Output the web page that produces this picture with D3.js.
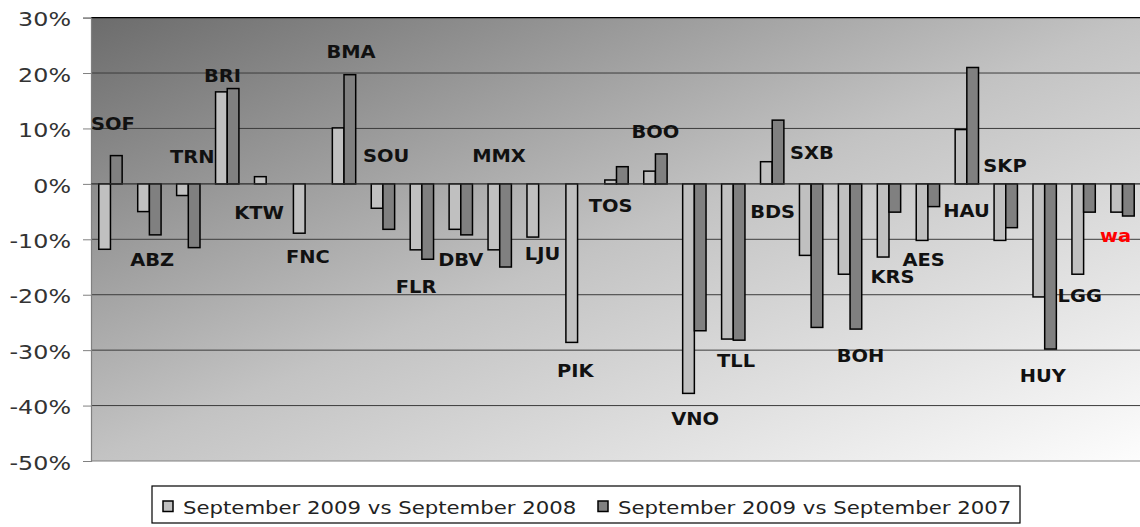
<!DOCTYPE html>
<html>
<head>
<meta charset="utf-8">
<script src="https://cdn.jsdelivr.net/npm/d3@7"></script>
<style>
  body { margin: 0; background: #fff; }
  svg { display: block; font-family: "DejaVu Sans", Verdana, sans-serif; }
</style>
</head>
<body>
<svg id="chart" width="1140" height="527"></svg>
<script>
// airports (data label text)
const airports = ["SOF", "ABZ", "TRN", "BRI", "KTW", "FNC", "BMA", "SOU", "FLR", "DBV",
  "MMX", "LJU", "PIK", "TOS", "BOO", "VNO", "TLL", "BDS", "SXB", "BOH",
  "KRS", "AES", "HAU", "SKP", "HUY", "LGG", "wa"];

// % change, September 2009 vs September 2008
const vs2008 = [-11.8, -5.0, -2.1, 16.6, 1.3, -8.9, 10.1, -4.4, -11.9, -8.2,
  -11.9, -9.6, -28.6, 0.7, 2.3, -37.8, -28.0, 4.0, -12.9, -16.3,
  -13.2, -10.2, 9.8, -10.2, -20.4, -16.3, -5.1];

// % change, September 2009 vs September 2007 (null = no bar)
const vs2007 = [5.1, -9.2, -11.5, 17.2, null, null, 19.7, -8.2, -13.6, -9.2,
  -15.0, null, null, 3.1, 5.4, -26.5, -28.2, 11.5, -25.9, -26.2,
  -5.1, -4.1, 21.0, -7.9, -29.8, -5.1, -5.8];

// where the hand-placed labels sit: shift in bands, height in %
const labelShift = [0.06, 0.07, 0.1, -0.12, -0.18, 0.07, 0.18, 0.08, -0.15, 0,
  -0.02, 0.1, -0.06, -0.15, 0, 0.02, 0.07, 0.01, 0.02, 0.27,
  0.09, -0.11, -0.01, -0.02, -0.05, -0.1, -0.18];
const labelLevel = [9.7, -14.9, 3.8, 18.3, -6.3, -14.2, 22.7, 4.0, -19.6, -14.9,
  3.9, -13.7, -34.8, -5.1, 8.2, -43.5, -33.0, -6.2, 4.4, -32.1,
  -17.9, -14.9, -5.9, 2.1, -35.7, -21.4, -10.4];

const yTicks = [30, 20, 10, 0, -10, -20, -30, -40, -50];
const seriesNames = ["September 2009 vs September 2008", "September 2009 vs September 2007"];
const seriesColors = ["#c0c0c0", "#808080"];

const svg = d3.select("#chart");
const plot = { left: 91, right: 1142, top: 17.6, bottom: 461 };

const x = d3.scaleBand()
  .domain(airports)
  .range([plot.left, plot.right])
  .paddingInner(0.4)
  .paddingOuter(0.2);
const xSub = d3.scaleBand()
  .domain([0, 1])
  .range([0, x.bandwidth()]);
const y = d3.scaleLinear()
  .domain([-50, 30])
  .range([plot.bottom, plot.top]);

// plot area gradient
const grad = svg.append("defs").append("linearGradient")
  .attr("id", "bg")
  .attr("x1", 0).attr("y1", 0).attr("x2", 1).attr("y2", 1);
grad.append("stop").attr("offset", 0).attr("stop-color", "#6c6c6c");
grad.append("stop").attr("offset", 0.5).attr("stop-color", "#c3c3c3");
grad.append("stop").attr("offset", 1).attr("stop-color", "#fdfdfd");

svg.append("rect")
  .attr("x", plot.left).attr("y", plot.top)
  .attr("width", plot.right - plot.left)
  .attr("height", plot.bottom - plot.top)
  .attr("fill", "url(#bg)");

// gridlines
svg.append("g")
  .selectAll("line")
  .data(yTicks.filter(t => t > -50 && t < 30))
  .join("line")
  .attr("x1", plot.left).attr("x2", plot.right)
  .attr("y1", d => y(d)).attr("y2", d => y(d))
  .attr("stroke", "#3c3c3c")
  .attr("stroke-width", 1);

// top border and bottom edge
svg.append("line")
  .attr("x1", plot.left).attr("x2", plot.right)
  .attr("y1", y(30)).attr("y2", y(30))
  .attr("stroke", "#000").attr("stroke-width", 1.2);
svg.append("line")
  .attr("x1", plot.left).attr("x2", plot.right)
  .attr("y1", y(-50)).attr("y2", y(-50))
  .attr("stroke", "#808080").attr("stroke-width", 1.2);

// y axis
const yAxis = svg.append("g")
  .attr("transform", `translate(${plot.left},0)`)
  .call(d3.axisLeft(y).tickValues(yTicks).tickSize(8).tickPadding(12).tickFormat(d => d + "%"));
yAxis.select(".domain").attr("stroke", "#808080").attr("stroke-width", 1.2);
yAxis.selectAll(".tick line").attr("stroke", "#808080");
yAxis.selectAll(".tick text")
  .attr("font-family", "DejaVu Sans, sans-serif")
  .attr("font-size", 19.5)
  .attr("fill", "#333")
  .attr("dy", "0.42em")
  .attr("x", null)
  .attr("transform", "translate(-20,0) scale(1.22,1)");

// bars
const groups = svg.append("g")
  .selectAll("g")
  .data(airports)
  .join("g")
  .attr("transform", d => `translate(${x(d)},0)`);

groups.selectAll("rect")
  .data((d, i) => [vs2008[i], vs2007[i]].map((v, s) => ({ v, s })).filter(e => e.v !== null))
  .join("rect")
  .attr("x", e => xSub(e.s))
  .attr("width", xSub.bandwidth())
  .attr("y", e => y(Math.max(0, e.v)))
  .attr("height", e => Math.abs(y(e.v) - y(0)))
  .attr("fill", e => seriesColors[e.s])
  .attr("stroke", "#000")
  .attr("stroke-width", 1.5);

// zero line over bars base
svg.append("line")
  .attr("x1", plot.left).attr("x2", plot.right)
  .attr("y1", y(0)).attr("y2", y(0))
  .attr("stroke", "#3c3c3c").attr("stroke-width", 1);

// data labels
svg.append("g")
  .selectAll("text")
  .data(airports)
  .join("text")
  .attr("transform", (d, i) =>
    `translate(${x(d) + x.bandwidth() / 2 + labelShift[i] * x.step()},${y(labelLevel[i])}) scale(1.08,1)`)
  .attr("text-anchor", "middle")
  .attr("font-size", 18)
  .attr("font-weight", "bold")
  .attr("fill", d => d === "wa" ? "#ff0000" : "#111")
  .text(d => d);

// legend
const legend = svg.append("g").attr("transform", "translate(152,486)");
legend.append("rect")
  .attr("width", 868).attr("height", 37)
  .attr("fill", "#fff")
  .attr("stroke", "#000").attr("stroke-width", 1.2);
const legendX = [11, 446];
const items = legend.selectAll("g.item")
  .data(seriesNames)
  .join("g")
  .attr("class", "item")
  .attr("transform", (d, i) => `translate(${legendX[i]},0)`);
items.append("rect")
  .attr("x", 0).attr("y", 15)
  .attr("width", 10).attr("height", 10.5)
  .attr("fill", (d, i) => seriesColors[i])
  .attr("stroke", "#000").attr("stroke-width", 1.5);
items.append("text")
  .attr("transform", "translate(20,28) scale(1.18,1)")
  .attr("font-size", 18)
  .attr("fill", "#222")
  .text(d => d);
</script>
</body>
</html>
